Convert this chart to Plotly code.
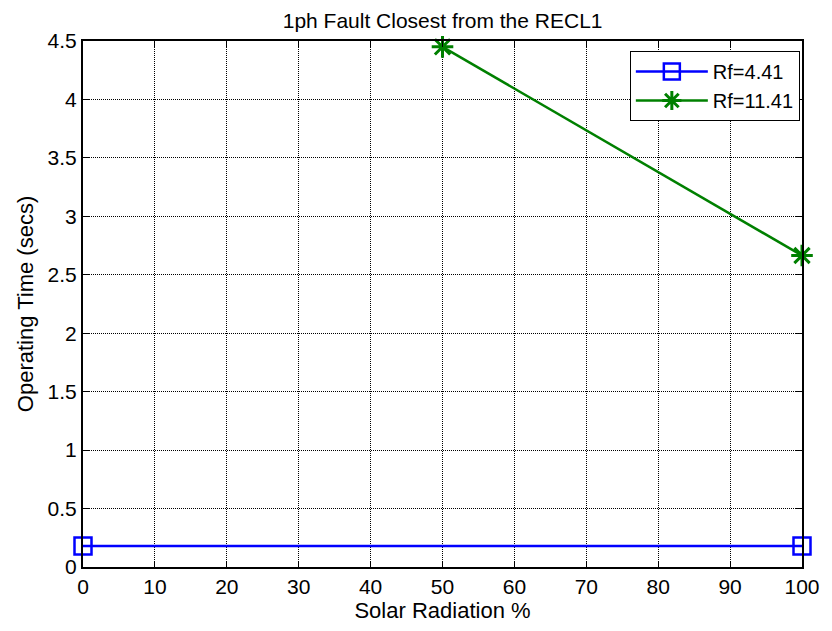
import plotly.graph_objects as go

# Operating time of the recloser vs. solar radiation level
solar_pct = [0, 100]
t_rf_441 = [0.18, 0.18]
solar_pct_b = [50, 100]
t_rf_1141 = [4.45, 2.665]

x_ticks = list(range(0, 101, 10))
y_ticks = [0, 0.5, 1, 1.5, 2, 2.5, 3, 3.5, 4, 4.5]
y_tick_text = ["0", "0.5", "1", "1.5", "2", "2.5", "3", "3.5", "4", "4.5"]

FONT = "Liberation Sans, Arial, sans-serif"

fig = go.Figure()
fig.add_trace(go.Scatter(
    x=solar_pct, y=t_rf_441, mode="lines+markers", name="Rf=4.41",
    line=dict(color="#0000ff", width=2.5),
    marker=dict(symbol="square-open", size=17, color="#0000ff", line=dict(width=2.5, color="#0000ff")),
    cliponaxis=False,
))
fig.add_trace(go.Scatter(
    x=solar_pct_b, y=t_rf_1141, mode="lines+markers", name="Rf=11.41",
    line=dict(color="#008000", width=2.5),
    marker=dict(symbol="asterisk-open", size=18, color="#008000", line=dict(width=3, color="#008000")),
    cliponaxis=False,
))

axis_common = dict(
    showline=True, linecolor="black", linewidth=2, mirror="ticks",
    ticks="inside", ticklen=6, tickcolor="black", tickwidth=1,
    showgrid=True, gridcolor="black", gridwidth=1, griddash="1px,1px",
    zeroline=False, tickfont=dict(family=FONT, size=21, color="black"),
)

fig.update_xaxes(range=[0, 100], tickvals=x_ticks, **axis_common,
                 title=dict(text="Solar Radiation %", font=dict(family=FONT, size=22, color="black"), standoff=5))
fig.update_yaxes(range=[0, 4.5], tickvals=y_ticks, ticktext=y_tick_text, **axis_common,
                 title=dict(text="Operating Time (secs)", font=dict(family=FONT, size=22, color="black"), standoff=8))

fig.update_layout(
    width=832, height=631,
    margin=dict(l=83, r=23, t=41, b=60),
    paper_bgcolor="white", plot_bgcolor="white",
    title=dict(text="1ph Fault Closest from the RECL1", x=0.532, xanchor="center", y=0.968, yanchor="middle",
               font=dict(family=FONT, size=21, color="black")),
    legend=dict(x=0.997, y=0.981, xanchor="right", yanchor="top",
                bgcolor="white", bordercolor="black", borderwidth=1,
                font=dict(family=FONT, size=20, color="black"),
                itemwidth=72, tracegroupgap=0),
    showlegend=True,
)

fig.write_html("out.html")
